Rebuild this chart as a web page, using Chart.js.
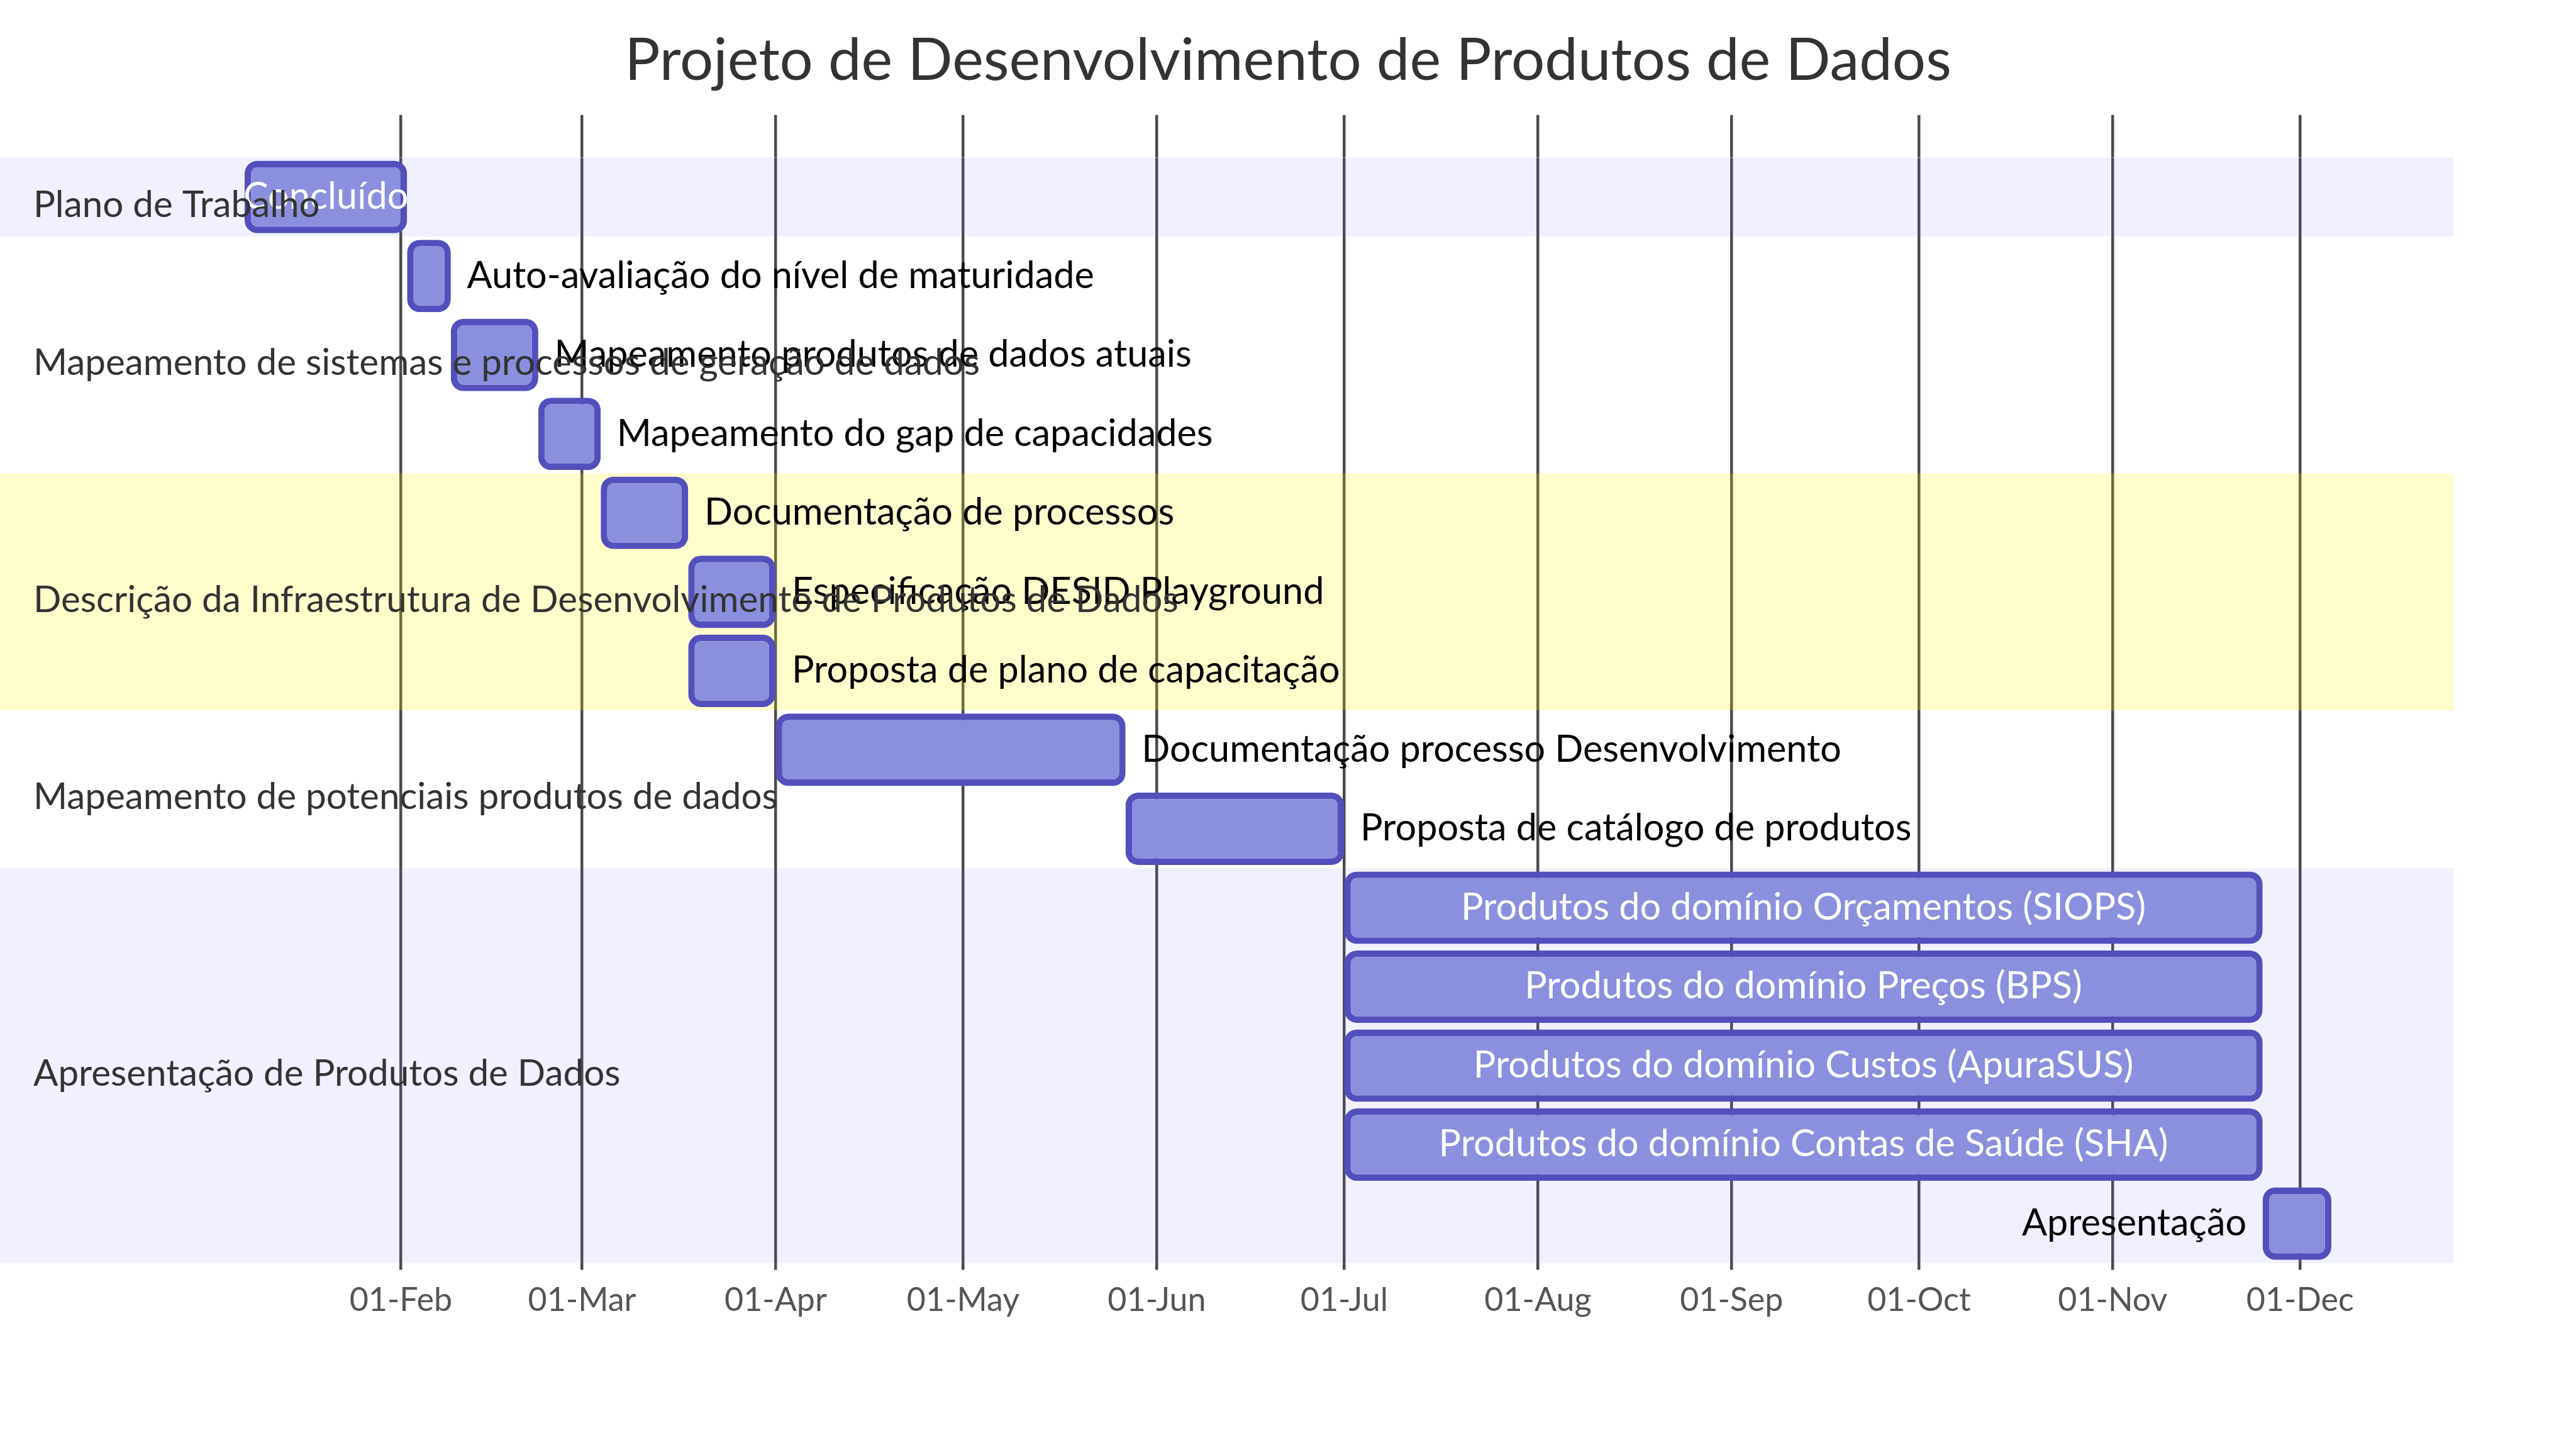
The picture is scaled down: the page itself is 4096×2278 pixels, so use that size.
<!DOCTYPE html>
<html>
<head>
<meta charset="utf-8">
<script src="https://cdn.jsdelivr.net/npm/chart.js@4.4.1/dist/chart.umd.min.js"></script>
<style>
html,body{margin:0;padding:0;background:#ffffff;overflow:hidden}
canvas{display:block}
</style>
</head>
<body>
<canvas id="c" width="4096" height="2278"></canvas>
<script>
// ---------------- DATA ----------------
const chartTitle = 'Projeto de Desenvolvimento de Produtos de Dados';

const sectionNames = [
  'Plano de Trabalho',
  'Mapeamento de sistemas e processos de geração de dados',
  'Descrição da Infraestrutura de Desenvolvimento de Produtos de Dados',
  'Mapeamento de potenciais produtos de dados',
  'Apresentação de Produtos de Dados'
];

const taskNames = [
  'Concluído',
  'Auto-avaliação do nível de maturidade',
  'Mapeamento produtos de dados atuais',
  'Mapeamento do gap de capacidades',
  'Documentação de processos',
  'Especificação DESID Playground',
  'Proposta de plano de capacitação',
  'Documentação processo Desenvolvimento',
  'Proposta de catálogo de produtos',
  'Produtos do domínio Orçamentos (SIOPS)',
  'Produtos do domínio Preços (BPS)',
  'Produtos do domínio Custos (ApuraSUS)',
  'Produtos do domínio Contas de Saúde (SHA)',
  'Apresentação'
];

const taskSection = [0, 1, 1, 1, 2, 2, 2, 3, 3, 4, 4, 4, 4, 4];

const taskStart = [
  '2024-01-07', '2024-02-02', '2024-02-09', '2024-02-23', '2024-03-04',
  '2024-03-18', '2024-03-18', '2024-04-01', '2024-05-27', '2024-07-01',
  '2024-07-01', '2024-07-01', '2024-07-01', '2024-11-25'
];

const taskEnd = [
  '2024-02-02', '2024-02-09', '2024-02-23', '2024-03-04', '2024-03-18',
  '2024-04-01', '2024-04-01', '2024-05-27', '2024-07-01', '2024-11-25',
  '2024-11-25', '2024-11-25', '2024-11-25', '2024-12-06'
];

const tickDates = [
  '2024-02-01', '2024-03-01', '2024-04-01', '2024-05-01', '2024-06-01', '2024-07-01',
  '2024-08-01', '2024-09-01', '2024-10-01', '2024-11-01', '2024-12-01'
];

const tickLabels = [
  '01-Feb', '01-Mar', '01-Apr', '01-May', '01-Jun', '01-Jul',
  '01-Aug', '01-Sep', '01-Oct', '01-Nov', '01-Dec'
];

// ---------------- HELPERS ----------------
const FONT = 'Lato, "Liberation Sans", sans-serif';
const BORDER = 10.4;
const toDay = s => Date.UTC(+s.slice(0, 4), +s.slice(5, 7) - 1, +s.slice(8, 10)) / 86400000;
const startDays = taskStart.map(toDay);
const endDays = taskEnd.map(toDay);
const tickDays = tickDates.map(toDay);
const minDay = Math.min(...startDays);
const maxDay = Math.max(...endDays);

const sectionFill = [
  'rgba(102,102,255,0.098)',
  'rgba(255,255,255,0)',
  'rgba(255,244,0,0.2)',
  'rgba(255,255,255,0)'
];

const ganttPlugin = {
  id: 'ganttDecor',
  beforeDatasetsDraw(chart) {
    const ctx = chart.ctx;
    const ys = chart.scales.y;
    const rowH = ys.getPixelForValue(1) - ys.getPixelForValue(0);
    const xEnd = chart.width - (chart.width - chart.chartArea.right) / 2;
    ctx.save();
    sectionNames.forEach((s, si) => {
      const rows = taskSection.map((v, i) => v === si ? i : -1).filter(i => i >= 0);
      const top = ys.getPixelForValue(rows[0]) - rowH / 2;
      const bot = ys.getPixelForValue(rows[rows.length - 1]) + rowH / 2;
      ctx.fillStyle = sectionFill[si % 4];
      ctx.fillRect(0, top, xEnd, bot - top);
    });
    ctx.restore();
  },
  afterDatasetsDraw(chart) {
    const ctx = chart.ctx;
    const xs = chart.scales.x;
    const ys = chart.scales.y;
    const rowH = ys.getPixelForValue(1) - ys.getPixelForValue(0);
    const fs = rowH * 0.473;
    const fsSec = rowH * 0.465;
    const gap = rowH * 0.204;
    ctx.save();
    ctx.font = fs + 'px ' + FONT;
    ctx.textBaseline = 'alphabetic';
    taskNames.forEach((name, i) => {
      const x0 = xs.getPixelForValue(startDays[i]);
      const x1 = xs.getPixelForValue(endDays[i]);
      const y = ys.getPixelForValue(i) + rowH * 0.15;
      const tw = ctx.measureText(name).width;
      if (tw <= x1 - x0 + 2 * BORDER) {
        ctx.fillStyle = '#ffffff';
        ctx.textAlign = 'center';
        ctx.fillText(name, (x0 + x1) / 2, y);
      } else if (x1 + tw + 1.5 * chart.chartArea.left > chart.width) {
        ctx.fillStyle = '#000000';
        ctx.textAlign = 'right';
        ctx.fillText(name, x0 - gap, y);
      } else {
        ctx.fillStyle = '#000000';
        ctx.textAlign = 'left';
        ctx.fillText(name, x1 + gap, y);
      }
    });
    // section titles on top
    ctx.font = fsSec + 'px ' + FONT;
    ctx.fillStyle = '#333333';
    ctx.textAlign = 'left';
    sectionNames.forEach((s, si) => {
      const rows = taskSection.map((v, i) => v === si ? i : -1).filter(i => i >= 0);
      const mid = (ys.getPixelForValue(rows[0]) + ys.getPixelForValue(rows[rows.length - 1])) / 2;
      ctx.fillText(s, 53, mid + rowH * 0.253);
    });
    ctx.restore();
  }
};

const tickSetter = axis => { axis.ticks = tickDays.map(v => ({ value: v })); };

new Chart(document.getElementById('c'), {
  type: 'bar',
  data: {
    labels: taskNames,
    datasets: [{
      data: taskNames.map((n, i) => [startDays[i], endDays[i]]),
      backgroundColor: '#8a90dd',
      borderColor: '#534fbc',
      borderWidth: BORDER,
      borderSkipped: false,
      borderRadius: 20,
      barPercentage: 0.917,
      categoryPercentage: 1.0
    }]
  },
  options: {
    indexAxis: 'y',
    responsive: false,
    animation: false,
    devicePixelRatio: 1,
    layout: { padding: { left: 389, right: 389, top: 0, bottom: 162 } },
    plugins: {
      legend: { display: false },
      tooltip: { enabled: false },
      title: {
        display: true,
        text: chartTitle,
        color: '#333333',
        font: { family: FONT, size: 94, weight: 'normal', lineHeight: 1.2 },
        padding: { top: 40, bottom: 30 }
      }
    },
    scales: {
      x: {
        type: 'linear',
        position: 'bottom',
        min: minDay,
        max: maxDay,
        afterBuildTicks: tickSetter,
        ticks: {
          callback: (v, i) => tickLabels[i],
          color: '#555555',
          font: { family: FONT, size: 52 },
          padding: 17.5,
          autoSkip: false,
          maxRotation: 0
        },
        grid: { color: '#4a4a4a', lineWidth: 4.5, tickLength: 10.7, drawTicks: true },
        border: { display: false }
      },
      xTop: {
        type: 'linear',
        axis: 'x',
        position: 'top',
        min: minDay,
        max: maxDay,
        afterBuildTicks: tickSetter,
        ticks: { display: false },
        grid: { color: '#4a4a4a', lineWidth: 4.5, tickLength: 67.6, drawTicks: true, drawOnChartArea: false },
        border: { display: false }
      },
      y: {
        type: 'category',
        display: false,
        offset: true,
        grid: { display: false }
      }
    }
  },
  plugins: [ganttPlugin]
});
</script>
</body>
</html>
